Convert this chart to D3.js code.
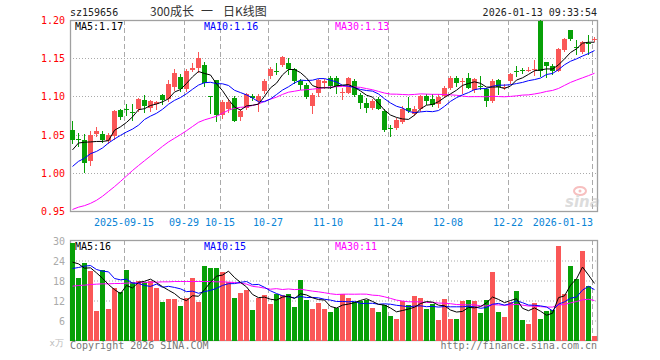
<!DOCTYPE html>
<html>
<head>
<meta charset="utf-8">
<script src="https://cdn.jsdelivr.net/npm/d3@7"></script>
<style>
body { margin: 0; background: #fff; }
svg { display: block; }
text { font-family: "DejaVu Sans Mono", monospace; font-size: 10px; }
</style>
</head>
<body>
<svg id="chart" width="660" height="360"></svg>
<script>
// daily bars, 2025-09-02 .. 2026-01-13 (88 trading days)
var opens  = [1.0566,1.0447,1.0434,1.0160,1.0513,1.0513,1.0420,1.0487,1.0816,1.0840,1.0802,1.0829,1.0947,1.0851,1.0895,1.1013,1.0960,1.1122,1.1254,1.1092,1.1342,1.1368,1.1412,1.1006,1.1210,1.0754,1.0840,1.0983,1.0728,1.0851,1.1004,1.0938,1.1070,1.1269,1.1338,1.1412,1.1443,1.1355,1.1201,1.1149,1.0873,1.1040,1.1180,1.1246,1.1237,1.1050,1.1049,1.1197,1.1013,1.0908,1.0851,1.0970,1.0807,1.0592,1.0588,1.0662,1.0851,1.0776,1.0829,1.1004,1.0960,1.0895,1.1004,1.1114,1.1237,1.1197,1.1237,1.1079,1.1140,1.1092,1.0938,1.1210,1.1118,1.1201,1.1338,1.1350,1.1348,1.1356,1.1990,1.1447,1.1404,1.1338,1.1601,1.1864,1.1650,1.1579,1.1700,1.1750];
var highs  = [1.0675,1.0520,1.0513,1.0543,1.0596,1.0543,1.0522,1.0820,1.0830,1.0895,1.0904,1.0982,1.1017,1.0955,1.0938,1.1030,1.1210,1.1355,1.1290,1.1355,1.1443,1.1583,1.1456,1.1010,1.1215,1.0950,1.0960,1.1004,1.0829,1.1050,1.1035,1.1026,1.1223,1.1390,1.1443,1.1526,1.1500,1.1377,1.1228,1.1175,1.1050,1.1230,1.1228,1.1268,1.1268,1.1114,1.1260,1.1230,1.1040,1.0983,1.0970,1.0990,1.0829,1.0630,1.0720,1.0870,1.0996,1.0870,1.1020,1.1030,1.1030,1.1030,1.1130,1.1267,1.1267,1.1237,1.1312,1.1245,1.1267,1.1110,1.1223,1.1223,1.1160,1.1310,1.1400,1.1377,1.1390,1.1470,1.2000,1.1447,1.1420,1.1640,1.1770,1.1870,1.1733,1.1720,1.1800,1.1776];
var lows   = [1.0395,1.0355,1.0010,1.0096,1.0478,1.0400,1.0390,1.0443,1.0710,1.0763,1.0697,1.0807,1.0790,1.0807,1.0830,1.0900,1.0938,1.1090,1.1070,1.1070,1.1330,1.1325,1.1136,1.0786,1.0675,1.0720,1.0800,1.0675,1.0690,1.0829,1.0950,1.0807,1.1049,1.1245,1.1290,1.1404,1.1298,1.1180,1.1092,1.0982,1.0786,1.1000,1.1110,1.1114,1.1050,1.0960,1.1049,1.1000,1.0851,1.0794,1.0830,1.0830,1.0543,1.0487,1.0570,1.0650,1.0790,1.0760,1.0810,1.0900,1.0880,1.0860,1.0990,1.1100,1.1140,1.1049,1.1110,1.1060,1.1100,1.0873,1.0930,1.1030,1.1100,1.1180,1.1267,1.1310,1.1330,1.1286,1.1270,1.1260,1.1290,1.1330,1.1590,1.1740,1.1557,1.1570,1.1557,1.1724];
var closes = [1.0425,1.0443,1.0127,1.0500,1.0553,1.0434,1.0490,1.0807,1.0728,1.0836,1.0798,1.0960,1.0872,1.0938,1.0930,1.0947,1.1158,1.1312,1.1101,1.1333,1.1377,1.1509,1.1180,1.1000,1.0754,1.0930,1.0930,1.0684,1.0807,1.1026,1.0974,1.1004,1.1201,1.1355,1.1333,1.1517,1.1355,1.1201,1.1149,1.0990,1.1017,1.1210,1.1201,1.1136,1.1128,1.1062,1.1246,1.1013,1.0908,1.0851,1.0938,1.0838,1.0566,1.0588,1.0697,1.0838,1.0807,1.0838,1.1004,1.0938,1.0886,1.0990,1.1114,1.1237,1.1180,1.1201,1.1114,1.1223,1.1136,1.0938,1.1201,1.1122,1.1122,1.1290,1.1333,1.1346,1.1351,1.1360,1.1338,1.1404,1.1338,1.1622,1.1754,1.1754,1.1645,1.1710,1.1684,1.1754];
var volumes = [29.4,18.9,23.4,20.9,8.9,21.2,9.5,15.9,14.7,21.2,17.5,17.9,17.5,17.9,15.9,11.6,12.5,12.5,10.5,12.8,18.9,11.6,22.4,21.7,21.9,20.5,17.5,12.9,14.3,15.2,9.2,12.7,13.7,11.1,13.9,13.7,14.1,10.2,18.2,12.1,9.5,11.4,9.5,8.6,9.7,13.9,12.9,11.7,11.9,12.2,9.9,8.5,10.7,7.4,6.5,11.9,10.7,13.4,12.9,9.5,11.0,6.2,12.5,6.5,6.5,11.9,12.2,11.9,8.3,12.2,20.6,8.6,7.1,11.5,14.9,6.2,5.0,11.3,6.5,8.9,9.2,28.4,14.0,22.4,18.5,26.9,16.4,1.4];

// moving averages as drawn in the picture
var ma5  = [1.0300,1.0390,1.0400,1.0404,1.0410,1.0411,1.0421,1.0557,1.0602,1.0659,1.0732,1.0826,1.0839,1.0881,1.0900,1.0929,1.0969,1.1057,1.1090,1.1170,1.1256,1.1326,1.1300,1.1280,1.1164,1.1075,1.0959,1.0860,1.0821,1.0875,1.0884,1.0899,1.1002,1.1112,1.1173,1.1282,1.1352,1.1352,1.1311,1.1242,1.1142,1.1113,1.1113,1.1111,1.1138,1.1147,1.1155,1.1117,1.1071,1.1016,1.0991,1.0910,1.0820,1.0756,1.0725,1.0705,1.0699,1.0754,1.0837,1.0885,1.0895,1.0931,1.0986,1.1033,1.1081,1.1144,1.1169,1.1191,1.1171,1.1122,1.1122,1.1124,1.1104,1.1135,1.1214,1.1243,1.1288,1.1336,1.1346,1.1360,1.1358,1.1412,1.1491,1.1574,1.1623,1.1697,1.1709,1.1709];
var ma10 = [1.0083,1.0150,1.0190,1.0250,1.0280,1.0325,1.0390,1.0443,1.0490,1.0534,1.0572,1.0623,1.0698,1.0742,1.0779,1.0831,1.0897,1.0948,1.0985,1.1035,1.1093,1.1148,1.1179,1.1185,1.1167,1.1165,1.1143,1.1080,1.1050,1.1020,1.0979,1.0929,1.0931,1.0967,1.1024,1.1083,1.1126,1.1177,1.1212,1.1208,1.1212,1.1233,1.1233,1.1211,1.1190,1.1145,1.1134,1.1115,1.1091,1.1077,1.1069,1.1032,1.0969,1.0914,1.0871,1.0848,1.0804,1.0787,1.0797,1.0805,1.0800,1.0815,1.0870,1.0935,1.0983,1.1020,1.1050,1.1089,1.1102,1.1102,1.1133,1.1147,1.1147,1.1153,1.1168,1.1183,1.1206,1.1220,1.1240,1.1287,1.1300,1.1350,1.1414,1.1460,1.1491,1.1528,1.1561,1.1600];
var ma30 = [0.9520,0.9550,0.9570,0.9600,0.9640,0.9693,0.9756,0.9819,0.9887,0.9958,1.0030,1.0095,1.0158,1.0220,1.0283,1.0346,1.0404,1.0452,1.0500,1.0551,1.0606,1.0661,1.0693,1.0716,1.0740,1.0779,1.0819,1.0845,1.0857,1.0863,1.0881,1.0900,1.0936,1.0964,1.0990,1.1026,1.1055,1.1068,1.1082,1.1088,1.1095,1.1103,1.1114,1.1121,1.1127,1.1131,1.1134,1.1124,1.1118,1.1102,1.1087,1.1065,1.1044,1.1030,1.1029,1.1025,1.1021,1.1026,1.1033,1.1030,1.1027,1.1027,1.1024,1.1020,1.1015,1.1004,1.0996,1.0997,1.0997,1.0995,1.1001,1.0998,1.0995,1.1000,1.1007,1.1017,1.1020,1.1032,1.1046,1.1065,1.1078,1.1104,1.1144,1.1183,1.1214,1.1243,1.1272,1.1303];
var vma5  = [23.5,23.0,21.7,21.8,20.3,18.66,16.78,15.28,14.04,16.5,15.76,17.44,17.76,18.4,17.34,16.16,15.08,14.08,12.6,11.98,13.44,13.26,15.24,17.48,19.3,19.62,20.8,18.9,17.42,16.08,13.82,12.86,13.02,12.38,12.12,13.02,13.3,12.6,14.02,13.66,12.82,12.28,12.14,10.22,9.74,10.62,10.92,11.36,12.02,12.52,11.72,10.84,10.64,9.74,8.6,9.0,9.44,9.98,11.08,11.68,11.5,10.6,10.42,9.14,8.54,8.72,9.92,9.8,10.16,11.3,13.04,12.32,11.36,12.0,12.54,9.66,8.94,9.78,8.78,7.58,8.18,12.86,13.4,16.58,18.5,22.04,19.64,17.12];
var vma10 = [21.6,21.9,22.3,22.5,21.3,20.8,20.6,18.6,18.2,18.4,17.21,17.11,16.52,16.22,16.92,15.96,16.26,15.92,15.5,14.66,14.8,14.17,14.66,15.04,15.64,16.53,17.03,17.07,17.45,17.69,16.72,16.83,15.96,14.9,14.1,13.42,13.08,12.81,13.2,12.89,12.92,12.79,12.37,12.12,11.7,11.72,11.6,11.75,11.12,11.13,11.17,10.88,11.0,10.88,10.56,10.36,10.14,10.31,10.41,10.14,10.25,10.02,10.2,10.11,10.11,10.11,10.26,10.11,9.65,9.92,10.88,11.12,10.58,11.08,11.92,11.35,10.63,10.57,10.39,10.06,8.92,10.9,11.59,12.68,13.04,15.11,16.25,15.26];
var vma30 = [16.3,16.5,16.6,16.8,16.9,17.0,17.0,17.1,17.1,17.2,17.3,17.3,17.4,17.5,17.5,17.6,17.6,17.7,17.7,17.7,17.7,17.7,17.7,17.7,17.6,17.6,17.5,17.4,17.2,16.92,16.24,16.04,15.71,15.39,15.55,15.3,15.46,15.27,15.38,15.08,14.81,14.6,14.33,14.02,13.81,13.89,13.9,13.88,13.92,13.9,13.6,13.5,13.11,12.63,12.12,11.83,11.61,11.62,11.58,11.39,11.45,11.23,11.19,11.04,10.79,10.73,10.67,10.72,10.39,10.4,10.77,10.67,10.59,10.69,10.86,10.61,10.34,10.33,10.15,10.04,10.02,10.68,10.79,11.29,11.69,12.19,12.38,11.98];

var tickIdx    = [9, 19, 25, 33, 43, 53, 63, 73, 87];
var tickLabels = ["2025-09-15", "09-29", "10-15", "10-27", "11-10", "11-24", "12-08", "12-22", "2026-01-13"];
var priceTicks = [1.20, 1.15, 1.10, 1.05, 1.00, 0.95];
var volTicks   = [30, 24, 18, 12, 6];

var RED = "#fa5757", GREEN = "#07a007", GRID = "#aaaaaa", BORDER = "#a0a0a0";

var svg = d3.select("#chart");
var x  = d3.scaleLinear().domain([0, 88]).range([70, 598]);
var y  = d3.scaleLinear().domain([0.95, 1.20]).range([211, 20]);
var yv = d3.scaleLinear().domain([0, 30]).range([340.5, 240.5]);
function px(v) { return Math.round(v) + 0.5; }

svg.append("defs").append("clipPath").attr("id", "clipMain")
  .append("rect").attr("x", 70).attr("y", 20).attr("width", 528).attr("height", 192);

// ---- header
svg.append("text").attr("x", 70).attr("y", 16).attr("fill", "#222").text("sz159656");
var title = svg.append("text").attr("y", 16).attr("fill", "#333")
  .style("font-family", "'Noto Sans CJK SC', sans-serif").style("font-size", "12px");
title.append("tspan").attr("x", 150).text("300成长");
title.append("tspan").attr("x", 201).text("一");
title.append("tspan").attr("x", 223).text("日K线图");
svg.append("text").attr("x", 597).attr("y", 16).attr("text-anchor", "end").attr("fill", "#222").text("2026-01-13 09:33:54");

// ---- grids
var gGrid = svg.append("g");
gGrid.selectAll(".hp").data(priceTicks.slice(1, 5)).enter().append("line")
  .attr("x1", 70).attr("x2", 597).attr("y1", d => px(y(d))).attr("y2", d => px(y(d)))
  .attr("stroke", GRID).attr("stroke-dasharray", "1,2");
gGrid.selectAll(".hv").data(volTicks.slice(1)).enter().append("line")
  .attr("x1", 70).attr("x2", 597).attr("y1", d => px(yv(d)) - 0.5).attr("y2", d => px(yv(d)) - 0.5)
  .attr("stroke", GRID).attr("stroke-dasharray", "1,2");
tickIdx.forEach(function (t) {
  gGrid.append("line").attr("x1", x(t) + 0.5).attr("x2", x(t) + 0.5).attr("y1", 20).attr("y2", 211)
    .attr("stroke", GRID).attr("stroke-dasharray", "5,3");
  gGrid.append("line").attr("x1", x(t) + 0.5).attr("x2", x(t) + 0.5).attr("y1", 240).attr("y2", 340)
    .attr("stroke", GRID).attr("stroke-dasharray", "5,3");
});

// ---- borders
svg.append("rect").attr("x", 70.5).attr("y", 20.5).attr("width", 527).attr("height", 191)
  .attr("fill", "none").attr("stroke", BORDER).attr("stroke-width", 1.3);
svg.append("rect").attr("x", 70.5).attr("y", 240.5).attr("width", 527).attr("height", 100)
  .attr("fill", "none").attr("stroke", BORDER).attr("stroke-width", 1.3);

// ---- axis labels
svg.selectAll(".pl").data(priceTicks).enter().append("text")
  .attr("x", 65).attr("y", d => y(d) + 4).attr("text-anchor", "end").attr("fill", "#f00")
  .text(d => d.toFixed(2));
svg.selectAll(".vl").data(volTicks).enter().append("text")
  .attr("x", 65).attr("y", d => yv(d) + 4).attr("text-anchor", "end").attr("fill", "#aaa")
  .text(d => d);
svg.append("text").attr("x", 64).attr("y", 346).attr("text-anchor", "end").attr("fill", "#bbb")
  .style("font-size", "9px").text("x万");
svg.selectAll(".dl").data(tickIdx).enter().append("text")
  .attr("x", (d, i) => i === tickIdx.length - 1 ? x(d) + 1 : x(d))
  .attr("y", 226)
  .attr("text-anchor", (d, i) => i === tickIdx.length - 1 ? "end" : "middle")
  .attr("fill", "#0a84d6")
  .text((d, i) => tickLabels[i]);

// ---- watermark
var wm = svg.append("g").attr("opacity", 0.5);
wm.append("ellipse").attr("cx", 580).attr("cy", 191).attr("rx", 6).attr("ry", 4)
  .attr("fill", "none").attr("stroke", "#f08080").attr("stroke-width", 2);
wm.append("circle").attr("cx", 580).attr("cy", 191).attr("r", 1.5).attr("fill", "#f08080");
wm.append("text").attr("x", 565).attr("y", 207).attr("fill", "#bbb")
  .style("font-family", "'DejaVu Sans', sans-serif").style("font-size", "15px")
  .style("font-style", "italic").style("font-weight", "bold").text("sina");

// ---- candles
var gC = svg.append("g").attr("clip-path", "url(#clipMain)");
var idx = d3.range(closes.length);
gC.selectAll(".wick").data(idx).enter().append("line")
  .attr("x1", i => x(i) + 2.5).attr("x2", i => x(i) + 2.5)
  .attr("y1", i => Math.round(y(highs[i]))).attr("y2", i => Math.round(y(lows[i])) + 1)
  .attr("stroke", i => closes[i] >= opens[i] ? RED : GREEN);
gC.selectAll(".body").data(idx).enter().append("rect")
  .attr("x", i => x(i)).attr("width", 5)
  .attr("y", i => Math.round(y(Math.max(opens[i], closes[i]))))
  .attr("height", i => Math.max(1, Math.round(y(Math.min(opens[i], closes[i]))) - Math.round(y(Math.max(opens[i], closes[i])))))
  .attr("fill", i => closes[i] >= opens[i] ? RED : GREEN);

// ---- volume bars
svg.append("g").selectAll("rect").data(idx).enter().append("rect")
  .attr("x", i => x(i)).attr("width", 5)
  .attr("y", i => Math.round(yv(volumes[i])))
  .attr("height", i => 341 - Math.round(yv(volumes[i])))
  .attr("fill", i => closes[i] >= opens[i] ? RED : GREEN);

// ---- moving average lines
function maLine(scale) {
  return d3.line().x((d, i) => x(i) + 2.5).y(d => scale(d));
}
[[ma30, "#ff00ff"], [ma10, "#0000ff"], [ma5, "#000"]].forEach(function (m) {
  svg.append("path").attr("d", maLine(y)(m[0])).attr("fill", "none").attr("stroke", m[1])
    .attr("clip-path", "url(#clipMain)");
});
[[vma30, "#ff00ff"], [vma10, "#0000ff"], [vma5, "#000"]].forEach(function (m) {
  svg.append("path").attr("d", maLine(yv)(m[0])).attr("fill", "none").attr("stroke", m[1]);
});

// ---- legends
svg.append("text").attr("x", 75).attr("y", 30).attr("fill", "#000").text("MA5:" + ma5[ma5.length - 1].toFixed(2));
svg.append("text").attr("x", 204).attr("y", 30).attr("fill", "#0000ff").text("MA10:" + ma10[ma10.length - 1].toFixed(2));
svg.append("text").attr("x", 335).attr("y", 30).attr("fill", "#ff00ff").text("MA30:" + ma30[ma30.length - 1].toFixed(2));
svg.append("text").attr("x", 75).attr("y", 250).attr("fill", "#000").text("MA5:16");
svg.append("text").attr("x", 204).attr("y", 250).attr("fill", "#0000ff").text("MA10:15");
svg.append("text").attr("x", 335).attr("y", 250).attr("fill", "#ff00ff").text("MA30:11");

// ---- footer
svg.append("text").attr("x", 70).attr("y", 349).attr("fill", "#777").text("Copyright 2026 SINA.COM");
svg.append("text").attr("x", 597).attr("y", 349).attr("text-anchor", "end").attr("fill", "#777").text("http://finance.sina.com.cn");
</script>
</body>
</html>
